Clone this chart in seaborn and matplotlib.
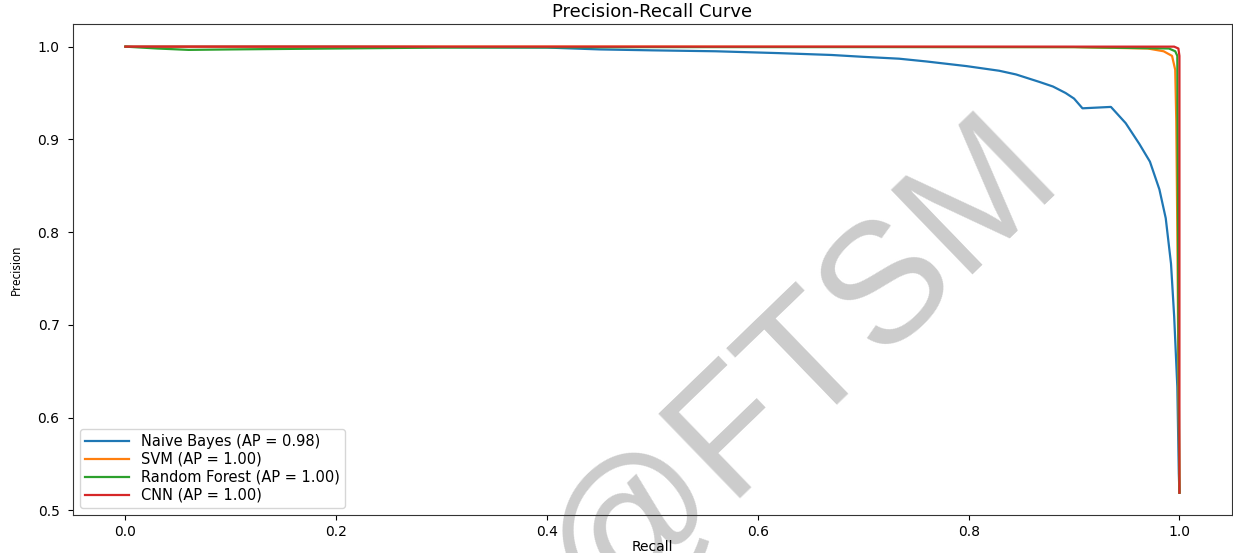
import numpy as np
import pandas as pd
import matplotlib
matplotlib.use("Agg")
import matplotlib.pyplot as plt
import seaborn as sns

# ---- data ----
nb_recall = [0.0, 0.10, 0.20, 0.30, 0.40, 0.45, 0.50, 0.56, 0.62, 0.67, 0.70, 0.734,
             0.76, 0.798, 0.829, 0.845, 0.867, 0.880, 0.892, 0.900, 0.908, 0.935, 0.949,
             0.962, 0.972, 0.981, 0.987, 0.992, 0.995, 0.998, 0.9994, 1.0]
nb_precision = [1.0, 1.0, 1.0, 0.9995, 0.999, 0.997, 0.996, 0.995, 0.993, 0.991, 0.989, 0.987,
                0.984, 0.979, 0.974, 0.970, 0.962, 0.957, 0.950, 0.944, 0.9335, 0.935, 0.9175,
                0.895, 0.876, 0.846, 0.815, 0.766, 0.709, 0.633, 0.540, 0.519]

svm_recall = [0.0, 0.5, 0.9, 0.97, 0.985, 0.993, 0.996, 0.997, 0.998, 0.999, 1.0]
svm_precision = [1.0, 1.0, 0.9995, 0.998, 0.995, 0.990, 0.975, 0.92, 0.80, 0.65, 0.519]

rf_recall = [0.0, 0.03, 0.06, 0.10, 0.20, 0.30, 0.50, 0.90, 0.99, 0.996, 0.998, 0.999, 1.0]
rf_precision = [1.0, 0.998, 0.9965, 0.997, 0.998, 0.999, 0.9995, 0.9995, 0.998, 0.995, 0.99, 0.70, 0.519]

cnn_recall = [0.0, 0.5, 0.995, 0.999, 1.0, 1.0]
cnn_precision = [1.0, 1.0, 1.0, 0.998, 0.99, 0.519]

labels = ["Naive Bayes (AP = 0.98)", "SVM (AP = 1.00)",
          "Random Forest (AP = 1.00)", "CNN (AP = 1.00)"]
colors = ["#1f77b4", "#ff7f0e", "#2ca02c", "#d62728"]

title = "Precision-Recall Curve"
xlabel = "Recall"
ylabel = "Precision"
watermark = "@FTSM"

series = [(nb_recall, nb_precision), (svm_recall, svm_precision),
          (rf_recall, rf_precision), (cnn_recall, cnn_precision)]

fig = plt.figure(figsize=(12.33, 5.53), dpi=100)
fig.patch.set_facecolor("white")
ax = fig.add_axes([0.059, 0.0687, 0.9403, 0.8873])
ax.patch.set_alpha(0.0)

for (r, p), lab, col in zip(series, labels, colors):
    df = pd.DataFrame({"Recall": r, "Precision": p})
    sns.lineplot(data=df, x="Recall", y="Precision", ax=ax, sort=False,
                 estimator=None, color=col, linewidth=1.6, label=lab)

ax.set_title(title, fontsize=13, pad=5)
ax.set_xlabel(xlabel, fontsize=10)
ax.set_ylabel(ylabel, fontsize=8.5, family="Noto Sans")
ax.xaxis.set_label_coords(0.5, -0.05)
ax.yaxis.set_label_coords(-0.043, 0.5)
ax.set_xticks([0.0, 0.2, 0.4, 0.6, 0.8, 1.0])
ax.set_yticks([0.5, 0.6, 0.7, 0.8, 0.9, 1.0])
ax.tick_params(axis="both", labelsize=10)
ax.tick_params(axis="y", pad=6)
for s in ax.spines.values():
    s.set_color("#333333")

ax.legend(loc="lower left", fontsize=10.5, labelspacing=0.2, handlelength=3.0,
          borderpad=0.35, framealpha=0.8)

# watermark drawn behind the axes content
fig.text(0.650, 0.340, watermark, fontsize=123, color="#cccccc", rotation=44,
         ha="center", va="center", family="Liberation Sans", zorder=-1)

fig.savefig("out.png", dpi=100, facecolor="white")
